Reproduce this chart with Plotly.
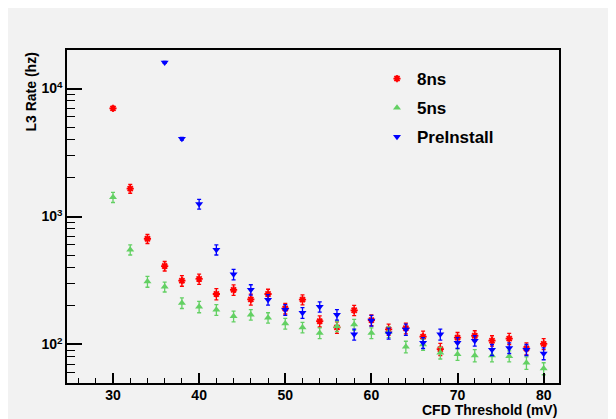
import math
import plotly.graph_objects as go

# ---- data ----
thr_all = [30, 32, 34, 36, 38, 40, 42, 44, 46, 48, 50, 52, 54, 56, 58, 60,
           62, 64, 66, 68, 70, 72, 74, 76, 78, 80]
thr_pre = [36, 38, 40, 42, 44, 46, 48, 50, 52, 54, 56, 58, 60,
           62, 64, 66, 68, 70, 72, 74, 76, 78, 80]

rate_8ns = [7000, 1650, 670, 410, 315, 325, 248, 267, 225, 248, 191, 224, 152,
            136, 185, 155, 131, 134, 115, 92, 113, 117, 107, 111, 93, 101]
err_8ns = [250, 130, 55, 35, 30, 30, 25, 25, 22, 22, 18, 20, 15,
           14, 17, 15, 13, 13, 12, 10, 11, 11, 10, 11, 10, 10]

rate_5ns = [1416, 550, 310, 282, 211, 197, 187, 166, 171, 162, 146, 136, 123,
            139, 143, 123, 125, 96, 100, 86, 84, 82, 82, 81, 72, 65]
err_5ns = [130, 50, 30, 25, 20, 20, 18, 16, 16, 15, 14, 13, 12,
           13, 14, 12, 12, 10, 10, 9, 9, 9, 9, 8, 8, 7]

rate_pre = [16000, 4055, 1250, 550, 353, 268, 224, 187, 177, 197, 171, 120, 154,
            122, 131, 103, 120, 103, 107, 91, 94, 91, 85]
err_pre = [300, 100, 110, 50, 33, 25, 21, 18, 17, 18, 16, 12, 15,
           12, 13, 10, 12, 10, 10, 9, 9, 9, 9]

series_names = ["8ns", "5ns", "PreInstall"]
y_tick_vals = [100, 1000, 10000]
y_tick_text = ["10<sup>2</sup>", "10<sup>3</sup>", "10<sup>4</sup>"]
x_title = "CFD Threshold (mV)"
y_title = "L3 Rate (hz)"

# ---- figure ----
OFF = 8  # page body margin
W, H = 616 - OFF, 419 - OFF
ML, MR, MT, MB = 67 - OFF, 57, 50 - OFF, 36
PW, PH = W - ML - MR, H - MT - MB

FONT = "Liberation Sans, Arial, sans-serif"
GREY = "#f2f2f2"


def px_x(px):
    return (px - OFF - ML) / PW


def px_y(py):
    return 1 - (py - OFF - MT) / PH


fig = go.Figure()

fig.add_trace(go.Scatter(
    x=thr_all, y=rate_8ns, mode="markers", name=series_names[0],
    legendgroup="a",
    marker=dict(symbol="asterisk-open", size=6, color="#ff0000",
                line=dict(color="#ff0000", width=1.8)),
    error_y=dict(type="data", array=err_8ns, color="#ff0000", thickness=1.3, width=2),
))
fig.add_trace(go.Scatter(
    x=thr_all, y=rate_5ns, mode="markers", name=series_names[1],
    legendgroup="b",
    marker=dict(symbol="triangle-up", size=7, color="#63d063"),
    error_y=dict(type="data", array=err_5ns, color="#63d063", thickness=1.3, width=2),
))
fig.add_trace(go.Scatter(
    x=thr_pre, y=rate_pre, mode="markers", name=series_names[2],
    legendgroup="c",
    marker=dict(symbol="triangle-down", size=7, color="#0000ff"),
    error_y=dict(type="data", array=err_pre, color="#0000ff", thickness=1.3, width=2),
))

minor_y = [m * 10 ** e for e in range(1, 5) for m in range(2, 10)]

fig.update_xaxes(
    range=[24.66, 81.78], showgrid=False, zeroline=False,
    showline=True, linecolor="black", linewidth=1.5, mirror=True,
    ticks="inside", ticklen=10, tickwidth=1.5, tickcolor="black",
    tick0=0, dtick=10, ticklabelstandoff=-2,
    minor=dict(ticks="inside", ticklen=5, tickwidth=1.2, tickcolor="black", dtick=2, tick0=0),
    tickfont=dict(family=FONT, size=14, color="black", weight="bold"),
)
fig.update_yaxes(
    type="log", range=[math.log10(50), math.log10(20000)],
    showgrid=False, zeroline=False,
    showline=True, linecolor="black", linewidth=1.5, mirror=True,
    ticks="inside", ticklen=15, tickwidth=1.5, tickcolor="black",
    tickmode="array", tickvals=y_tick_vals, ticktext=y_tick_text,
    minor=dict(ticks="inside", ticklen=8, tickwidth=1.2, tickcolor="black",
               tickmode="array", tickvals=minor_y),
    tickfont=dict(family=FONT, size=14, color="black", weight="bold"),
)

fig.add_annotation(text=x_title, xref="paper", yref="paper",
                   x=1, xanchor="right", y=px_y(409.5), yanchor="middle",
                   showarrow=False,
                   font=dict(family=FONT, size=14, color="black", weight="bold"))
fig.add_annotation(text=y_title, xref="paper", yref="paper", textangle=-90,
                   x=px_x(30), xanchor="center",
                   y=px_y(51), yanchor="top",
                   showarrow=False,
                   font=dict(family=FONT, size=14, color="black", weight="bold"))

fig.update_layout(
    width=W, height=H,
    margin=dict(l=ML, r=MR, t=MT, b=MB, pad=0),
    paper_bgcolor=GREY, plot_bgcolor=GREY,
    showlegend=True,
    legend=dict(x=px_x(377), xanchor="left",
                y=px_y(61), yanchor="top",
                bgcolor="rgba(0,0,0,0)", borderwidth=0,
                tracegroupgap=4,
                font=dict(family=FONT, size=17, color="black", weight="bold")),
    font=dict(family=FONT),
)

fig.write_html("out.html")
